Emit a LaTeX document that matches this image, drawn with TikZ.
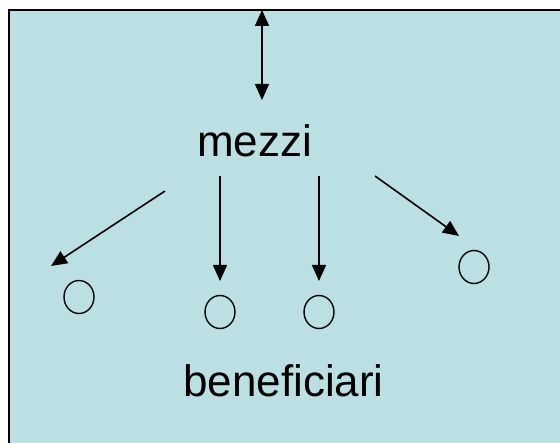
\documentclass[tikz,border=0pt]{standalone}
\usepackage{fontspec}
\setmainfont{Liberation Sans}
\usetikzlibrary{arrows.meta,shapes.geometric}
\definecolor{panel}{RGB}{187,224,227}
\tikzset{
  conn/.style={line width=1.6pt,-{Triangle[length=16pt,width=14pt]}},
  dconn/.style={line width=1.6pt,{Triangle[length=16pt,width=14pt]}-{Triangle[length=16pt,width=14pt]}},
  bene/.style={ellipse,draw,line width=1.4pt,minimum width=30pt,minimum height=33pt,inner sep=0pt},
  lbl/.style={inner sep=0pt,anchor=base,font=\fontsize{44}{50}\selectfont}
}
\begin{document}
\begin{tikzpicture}[x=1pt,y=-1pt]
\useasboundingbox (0,0) rectangle (560,443);
\fill[white] (0,0) rectangle (560,443);
\draw[line width=2pt,fill=panel] (9,10) rectangle (575,460);
\node[lbl] (mezzi) at (254.5,157) {mezzi};
\node[lbl] (benef) at (283.5,397) {beneficiari};
\node[bene] (c1) at (79,297) {};
\node[bene] (c2) at (220,312) {};
\node[bene] (c3) at (319,312) {};
\node[bene] (c4) at (474,267) {};
\coordinate (top) at (262,10);
\coordinate (tb) at (262,100);
\coordinate (s1) at (165,191);
\coordinate (e1) at (51,266);
\coordinate (s2) at (220,176);
\coordinate (e2) at (220,281);
\coordinate (s3) at (319,176);
\coordinate (e3) at (319,281);
\coordinate (s4) at (375,176);
\coordinate (e4) at (459,236);
\draw[dconn] (top) -- (tb);
\draw[conn] (s1) -- (e1);
\draw[conn] (s2) -- (e2);
\draw[conn] (s3) -- (e3);
\draw[conn] (s4) -- (e4);
\end{tikzpicture}
\end{document}
